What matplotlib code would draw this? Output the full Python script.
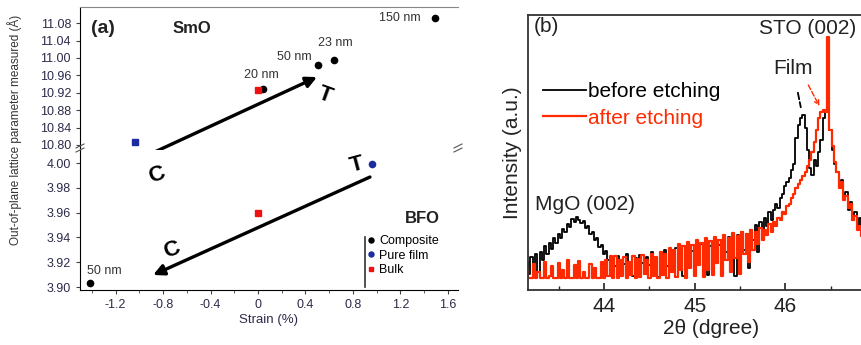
import numpy as np
import matplotlib
matplotlib.use("Agg")
import matplotlib.pyplot as plt

plt.rcParams['font.family'] = ['Liberation Sans', 'DejaVu Sans']

# ---- panel (a): lattice parameter vs strain ----
smo_comp_strain = [0.04, 0.505, 0.64, 1.49]
smo_comp_latt = [10.928, 10.983, 10.995, 11.091]
smo_comp_lab = ['20 nm', '50 nm', '23 nm', '150 nm']
bfo_comp_strain = [-1.415]
bfo_comp_latt = [3.903]
bfo_comp_lab = ['50 nm']
film_strain_smo, film_latt_smo = [-1.04], [10.806]
film_strain_bfo, film_latt_bfo = [0.96], [3.999]
bulk_strain_smo, bulk_latt_smo = [0.0], [10.926]
bulk_strain_bfo, bulk_latt_bfo = [0.0], [3.960]

strain_ticks = [-1.2, -0.8, -0.4, 0, 0.4, 0.8, 1.2, 1.6]
strain_ticklabels = ['-1.2', '-0.8', '-0.4', '0', '0.4', '0.8', '1.2', '1.6']
smo_ticks = [10.80, 10.84, 10.88, 10.92, 10.96, 11.00, 11.04, 11.08]
bfo_ticks = [3.90, 3.92, 3.94, 3.96, 3.98, 4.00]

# ---- panel (b): XRD scans (2theta grid 0.025 deg) ----
two_theta = np.round(np.arange(43.15, 46.8501, 0.025), 3)
before = [
    28, 16, 33, 22, 36, 18, 38, 30, 44, 36,
    47, 41, 52, 47, 56, 52, 61, 58, 66, 63,
    71, 68, 73, 70, 67, 69, 62, 64, 56, 58,
    50, 52, 43, 45, 36, 39, 30, 18, 33, 24,
    34, 15, 30, 26, 36, 20, 28, 14, 32, 24,
    35, 27, 16, 33, 25, 38, 22, 30, 13, 34,
    28, 40, 24, 36, 18, 33, 42, 26, 37, 14,
    35, 43, 28, 39, 20, 41, 32, 46, 24, 40,
    15, 44, 35, 49, 30, 45, 19, 48, 38, 53,
    34, 50, 14, 55, 44, 58, 40, 56, 22, 60,
    50, 65, 38, 68, 58, 72, 64, 78, 70, 80,
    86, 82, 92, 96, 104, 108, 112, 120, 126, 152,
    165, 172, 175, 162, 140, 122, 115, 130, 124, 138,
    150, 172, 180, 183, 160, 140, 126, 118, 106, 110,
    92, 98, 80, 88, 70, 78, 62, 72, 58,
]
after = [
    22, 12, 12, 26, 12, 18, 12, 12, 28, 12,
    14, 24, 12, 12, 27, 12, 20, 12, 30, 12,
    12, 25, 12, 29, 12, 18, 12, 12, 26, 12,
    22, 12, 12, 28, 12, 30, 14, 34, 12, 34,
    12, 30, 14, 33, 12, 28, 15, 34, 12, 31,
    13, 35, 16, 30, 12, 36, 14, 33, 12, 38,
    15, 36, 12, 42, 18, 40, 13, 46, 20, 44,
    12, 48, 22, 45, 14, 50, 25, 47, 13, 52,
    20, 49, 15, 53, 27, 50, 14, 55, 30, 52,
    18, 57, 32, 54, 16, 58, 36, 56, 28, 60,
    40, 58, 46, 62, 50, 60, 55, 66, 58, 68,
    64, 72, 70, 78, 76, 84, 86, 92, 96, 102,
    106, 110, 114, 118, 124, 130, 138, 148, 160, 172,
    178, 180, 178, 253, 160, 144, 128, 118, 102, 108,
    90, 94, 82, 86, 70, 74, 60, 64, 54,
]

W, H = 862, 345
fig = plt.figure(figsize=(W / 100, H / 100), dpi=100)

def box(x0, y0, x1, y1):
    return [x0 / W, 1 - y1 / H, (x1 - x0) / W, (y1 - y0) / H]

tick_col = '#2b2b4a'
ax_up = fig.add_axes(box(80, 7, 458, 148))
ax_lo = fig.add_axes(box(80, 150, 458, 290))

for ax in (ax_up, ax_lo):
    ax.set_xlim(-1.5, 1.685)
    ax.spines['right'].set_visible(False)
    ax.tick_params(labelsize=9, colors='#444', labelcolor=tick_col, length=3, width=0.8)
ax_up.set_ylim(10.793, 11.117)
ax_lo.set_ylim(3.8976, 4.0105)
ax_up.spines['bottom'].set_visible(False)
ax_up.spines['top'].set_color('#888')
ax_lo.spines['top'].set_visible(False)
ax_up.set_xticks([])
ax_up.set_yticks(smo_ticks)
ax_up.set_yticklabels([f'{v:.2f}' for v in smo_ticks])
ax_lo.set_yticks(bfo_ticks)
ax_lo.set_yticklabels([f'{v:.2f}' for v in bfo_ticks])
ax_lo.set_xticks(strain_ticks)
ax_lo.set_xticklabels(strain_ticklabels)
ax_lo.set_xticks(np.arange(-1.4, 1.7, 0.4), minor=True)
ax_lo.tick_params(axis='x', which='minor', length=2, colors='#444')
ax_lo.set_xlabel('Strain (%)', fontsize=9.5, color=tick_col, labelpad=2)

ms = 4.5
ax_up.plot(smo_comp_strain, smo_comp_latt, 'o', color='k', ms=ms)
ax_lo.plot(bfo_comp_strain, bfo_comp_latt, 'o', color='k', ms=ms, label='Composite')
ax_up.plot(film_strain_smo, film_latt_smo, 's', color='#1c2ca0', ms=ms - 0.5)
ax_lo.plot(film_strain_bfo, film_latt_bfo, 'o', color='#1c2ca0', ms=ms, label='Pure film')
ax_up.plot(bulk_strain_smo, bulk_latt_smo, 's', color='#ee1111', ms=ms - 0.5)
ax_lo.plot(bulk_strain_bfo, bulk_latt_bfo, 's', color='#ee1111', ms=ms - 0.5, label='Bulk')

offs = [(-1, 10), (-17, 6), (1, 12), (-25, 0)]
for s, l, lab, o in zip(smo_comp_strain, smo_comp_latt, smo_comp_lab, offs):
    ax_up.annotate(lab, (s, l), xytext=o, textcoords='offset points',
                   ha='center', va='center', fontsize=9, color='#333')
ax_lo.annotate(bfo_comp_lab[0], (bfo_comp_strain[0], bfo_comp_latt[0]), xytext=(10, 9),
               textcoords='offset points', ha='center', va='center', fontsize=9, color='#333')

ax_up.text(0.06, 0.85, '(a)', transform=ax_up.transAxes, fontsize=14, fontweight='bold',
           ha='center', va='center', color='#222')
ax_up.text(0.297, 0.85, 'SmO', transform=ax_up.transAxes, fontsize=12, fontweight='bold',
           ha='center', va='center', color='#222')
ax_lo.text(0.907, 0.51, 'BFO', transform=ax_lo.transAxes, fontsize=12, fontweight='bold',
           ha='center', va='center', color='#222')

# arrows C -> T
ax_up.annotate('', xy=(0.497, 10.956), xycoords=ax_up.transData,
               xytext=(-1.036, 4.0016), textcoords=ax_lo.transData,
               arrowprops=dict(arrowstyle='-|>', lw=2.4, color='k', mutation_scale=16,
                               shrinkA=0, shrinkB=0))
ax_lo.annotate('', xy=(-0.884, 3.9097), xytext=(0.943, 3.9887),
               arrowprops=dict(arrowstyle='-|>', lw=2.4, color='k', mutation_scale=16,
                               shrinkA=0, shrinkB=0))
ax_lo.text(-0.85, 3.9903, 'C', fontsize=16, fontweight='bold', rotation=20,
           ha='center', va='center', clip_on=False)
ax_lo.text(-0.724, 3.9298, 'C', fontsize=16, fontweight='bold', rotation=20,
           ha='center', va='center')
ax_up.text(0.564, 10.9145, 'T', fontsize=16, fontweight='bold', rotation=-20,
           ha='center', va='center')
ax_lo.text(0.834, 3.9984, 'T', fontsize=16, fontweight='bold', rotation=15,
           ha='center', va='center')

# legend with a vertical bar on its left
ax_lo.plot([0.754, 0.754], [0.02, 0.38], color='#333', lw=1.2, transform=ax_lo.transAxes)
ax_lo.legend(loc='upper left', bbox_to_anchor=(0.755, 0.40), frameon=False, fontsize=9,
             handlelength=0.7, handletextpad=0.3, labelspacing=0.2, borderpad=0.1,
             borderaxespad=0, markerscale=0.8)

# broken-axis marks
for (x, y) in [(80, 148), (458, 148)]:
    for dy in (-2, 2):
        fig.add_artist(plt.Line2D([(x - 4) / W, (x + 4) / W],
                                  [1 - (y + dy + 2) / H, 1 - (y + dy - 2) / H],
                                  color='#555', lw=0.8))

fig.text(15 / W, 1 - 130 / H, 'Out-of-plane lattice parameter measured (Å)', rotation=90,
         ha='center', va='center', fontsize=8.5, color='#333')

# ---- panel (b) ----
axb = fig.add_axes(box(528, 15, 894, 290))
axb.plot(two_theta, before, color='k', lw=1.3, drawstyle='steps-mid', label='before etching')
axb.plot(two_theta, after, color='#ff2a00', lw=1.6, drawstyle='steps-mid', label='after etching')
axb.set_xlim(43.16, 47.2)
axb.set_ylim(0, 275)
axb.set_yticks([])
axb.set_xticks([44, 45, 46])
axb.set_xticks(np.arange(43.5, 47.1, 0.5), minor=True)
axb.tick_params(axis='x', which='major', direction='in', length=5, width=1.2,
                labelsize=15, pad=5, colors='#222')
axb.tick_params(axis='x', which='minor', direction='in', length=3, width=1.0, colors='#222')
for sp in axb.spines.values():
    sp.set_linewidth(1.3)
    sp.set_color('#333')
axb.spines['right'].set_visible(False)
axb.set_xlabel('2θ (dgree)', fontsize=15, labelpad=2, color='#222')
axb.set_ylabel('Intensity (a.u.)', fontsize=15, labelpad=4, color='#222')

axb.text(43.22, 263, '(b)', fontsize=15, ha='left', va='center', color='#222')
axb.text(46.243, 262, 'STO (002)', fontsize=15, ha='center', va='center', color='#222')
axb.text(46.088, 221, 'Film', fontsize=15, ha='center', va='center', color='#222')
axb.text(43.79, 85, 'MgO (002)', fontsize=15, ha='center', va='center', color='#222')
axb.annotate('', xy=(46.177, 180), xytext=(46.133, 200),
             arrowprops=dict(arrowstyle='-', lw=1.3, ls='--', color='k'))
axb.annotate('', xy=(46.376, 184), xytext=(46.254, 205),
             arrowprops=dict(arrowstyle='->', lw=1.0, ls='--', color='#ff2a00',
                             mutation_scale=8, shrinkA=0, shrinkB=0))
leg = axb.legend(loc='upper left', bbox_to_anchor=(0.04, 0.755), frameon=False, fontsize=15,
                 handlelength=2.1, handletextpad=0.1, labelspacing=0.35, borderpad=0,
                 borderaxespad=0, labelcolor='linecolor')

fig.savefig('out.png', dpi=100)
